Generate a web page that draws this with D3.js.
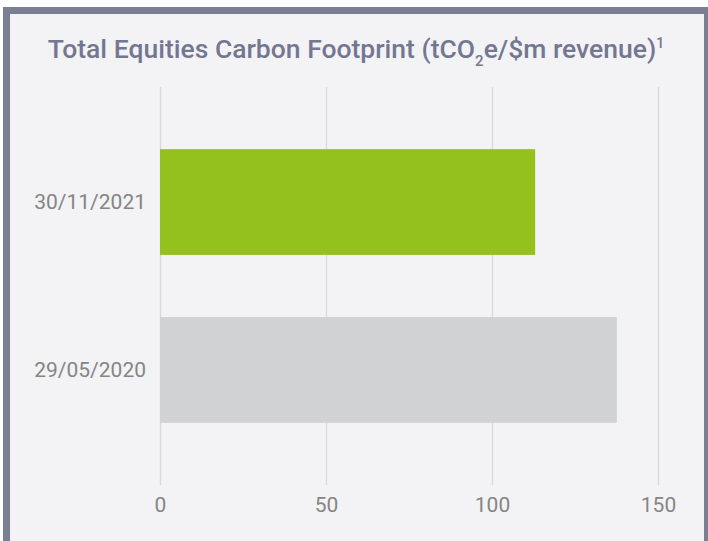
<html>
<head>
<script src="https://cdnjs.cloudflare.com/ajax/libs/d3/7.8.5/d3.min.js"></script>
<style>
  body { margin: 0; background: #fff; }
  text { font-family: Roboto, "Noto Sans", sans-serif; }
</style>
</head>
<body>
<svg id="chart"></svg>
<script>
    var width = 708,
        height = 541;

    // data
    var categories = ["30/11/2021", "29/05/2020"];
    var values = [113, 137.6];
    var barColors = ["#95c11f", "#d1d2d4"];
    var tickValues = [0, 50, 100, 150];

    var svg = d3.select("#chart")
        .attr("width", width)
        .attr("height", height);

    // panel with border
    svg.append("rect")
        .attr("x", 6.5)
        .attr("y", 10.5)
        .attr("width", 701)
        .attr("height", 560)
        .attr("fill", "#f3f3f5")
        .attr("stroke", "#7b7f94")
        .attr("stroke-width", 7);

    var title = svg.append("text")
        .attr("x", 356)
        .attr("y", 58)
        .attr("text-anchor", "middle")
        .attr("fill", "#737791")
        .style("font-size", "26.5px")
        .style("font-weight", 500);
    title.append("tspan").text("Total Equities Carbon Footprint (tCO");
    title.append("tspan").text("2").attr("dy", 8).style("font-size", "15px");
    title.append("tspan").text("e/$m revenue)").attr("dy", -8);
    title.append("tspan").text("1").attr("dy", -10).style("font-size", "14px");

    var x = d3.scaleLinear()
        .domain([0, 150])
        .range([160, 658]);

    var y = d3.scaleBand()
        .domain(categories)
        .range([87, 485])
        .padding(0.37);

    // gridlines
    svg.append("g")
        .selectAll("line")
        .data(tickValues)
        .enter().append("line")
        .attr("x1", function(d) { return Math.round(x(d)) + 0.5; })
        .attr("x2", function(d) { return Math.round(x(d)) + 0.5; })
        .attr("y1", 87)
        .attr("y2", 485)
        .attr("stroke", "#d9d9dc")
        .attr("stroke-width", 1.3);

    svg.append("g")
        .selectAll("rect")
        .data(values)
        .enter().append("rect")
        .attr("x", x(0))
        .attr("y", function(d, i) { return y(categories[i]); })
        .attr("width", function(d) { return x(d) - x(0); })
        .attr("height", y.bandwidth())
        .attr("fill", function(d, i) { return barColors[i]; });

    // x axis labels
    var xAxis = svg.append("g")
        .attr("transform", "translate(0,497)")
        .call(d3.axisBottom(x).tickValues(tickValues).tickSize(0).tickPadding(0));
    xAxis.select(".domain").remove();
    xAxis.selectAll("text")
        .attr("dy", "0.71em")
        .attr("fill", "#858585")
        .style("font-size", "21px")
        .style("font-family", "Roboto, sans-serif");

    // y axis labels
    var yAxis = svg.append("g")
        .attr("transform", "translate(146,0)")
        .call(d3.axisLeft(y).tickSize(0).tickPadding(0));
    yAxis.select(".domain").remove();
    yAxis.selectAll("text")
        .attr("fill", "#858585")
        .style("font-size", "21px")
        .style("font-family", "Roboto, sans-serif");
</script>
</body>
</html>
